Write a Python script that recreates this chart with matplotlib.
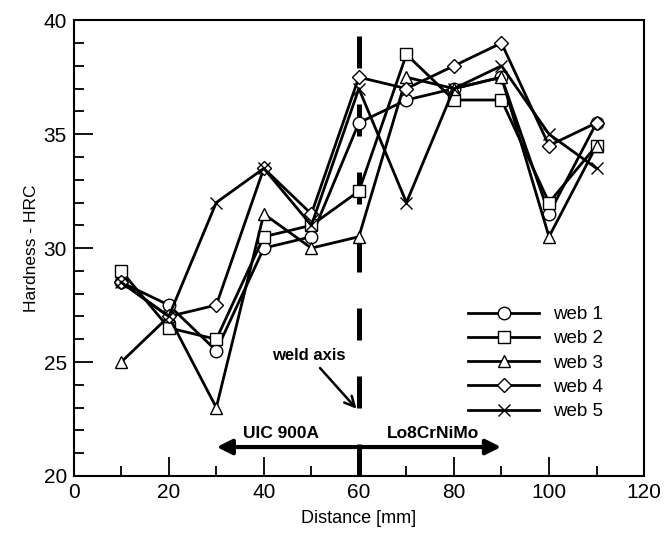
import matplotlib
matplotlib.use("Agg")
import matplotlib.pyplot as plt
from matplotlib.ticker import MultipleLocator

plt.rcParams['font.family'] = ['Liberation Sans', 'DejaVu Sans']

distance = [10, 20, 30, 40, 50, 60, 70, 80, 90, 100, 110]
web1 = [28.5, 27.5, 25.5, 30.0, 30.5, 35.5, 36.5, 37.0, 37.5, 31.5, 35.5]
web2 = [29.0, 26.5, 26.0, 30.5, 31.0, 32.5, 38.5, 36.5, 36.5, 32.0, 34.5]
web3 = [25.0, 27.0, 23.0, 31.5, 30.0, 30.5, 37.5, 37.0, 37.5, 30.5, 34.5]
web4 = [28.5, 27.0, 27.5, 33.5, 31.5, 37.5, 37.0, 38.0, 39.0, 34.5, 35.5]
web5 = [28.5, 27.0, 32.0, 33.5, 31.0, 37.0, 32.0, 37.0, 38.0, 35.0, 33.5]
labels = ['web 1', 'web 2', 'web 3', 'web 4', 'web 5']
markers = ['o', 's', '^', 'D', 'x']

fig = plt.figure(figsize=(6.64, 5.33), dpi=100)
ax = fig.add_axes([0.111, 0.107, 0.859, 0.855])

series = [web1, web2, web3, web4, web5]
for vals, lab, m in zip(series, labels, markers):
    ms = 7 if m == 'D' else 9
    ax.plot(distance, vals, color='black', lw=2.0, marker=m, markersize=ms,
            markerfacecolor='white', markeredgecolor='black', markeredgewidth=1.0,
            label=lab)

# weld axis
ax.axvline(60, color='black', lw=3.6, dashes=(6.4, 7.2), zorder=1)

# material arrows
ax.annotate('', xy=(29.5, 21.27), xytext=(60, 21.27),
            arrowprops=dict(arrowstyle='-|>,head_length=0.9,head_width=0.45',
                            color='black', lw=3))
ax.annotate('', xy=(90.5, 21.27), xytext=(60, 21.27),
            arrowprops=dict(arrowstyle='-|>,head_length=0.9,head_width=0.45',
                            color='black', lw=3))
ax.text(43.6, 21.85, 'UIC 900A', ha='center', va='center', fontsize=12.5, fontweight='bold')
ax.text(75.6, 21.85, 'Lo8CrNiMo', ha='center', va='center', fontsize=12.5, fontweight='bold')

ax.annotate('weld axis', xy=(59.5, 22.95), xytext=(49.5, 24.95),
            ha='center', va='bottom', fontsize=12, fontweight='bold',
            arrowprops=dict(arrowstyle='->,head_length=0.6,head_width=0.3',
                            color='black', lw=1.8, shrinkA=2, shrinkB=0))

ax.set_xlim(0, 120)
ax.set_ylim(20, 40)
ax.xaxis.set_major_locator(MultipleLocator(20))
ax.xaxis.set_minor_locator(MultipleLocator(10))
ax.yaxis.set_major_locator(MultipleLocator(5))
ax.yaxis.set_minor_locator(MultipleLocator(1))
ax.tick_params(which='major', direction='in', length=14, width=1.3, labelsize=15, pad=5)
ax.tick_params(which='minor', direction='in', length=7, width=1.3)
ax.tick_params(top=False, right=False, which='both')
for s in ax.spines.values():
    s.set_linewidth(1.5)

ax.set_xlabel('Distance [mm]', fontsize=13, labelpad=6)
ax.set_ylabel('Hardness - HRC', fontsize=12.5, labelpad=3)

leg = ax.legend(loc='upper left', bbox_to_anchor=(468 / 664, 1 - 306 / 533),
                bbox_transform=fig.transFigure, frameon=False, borderpad=0,
                borderaxespad=0, fontsize=13.5, handlelength=3.8,
                labelspacing=0.38, handletextpad=0.75)

fig.savefig('out.png', dpi=100)
